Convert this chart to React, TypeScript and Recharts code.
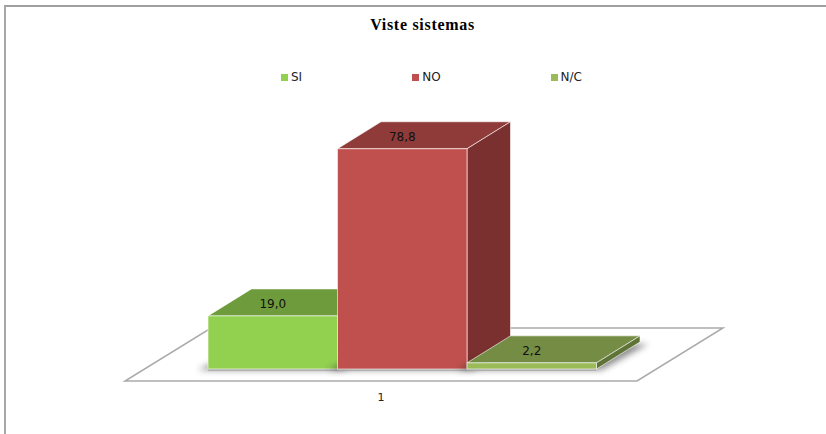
import { Bar, BarChart, Legend, XAxis, YAxis } from "recharts";

const CATEGORIES = ["1"];
const SERIES_NAMES = ["SI", "NO", "N/C"];
const SERIES_VALUES = [19.0, 78.8, 2.2];
const FRONT_COLORS = ["#92d050", "#c0504d", "#9bbb59"];
const TOP_COLORS = ["#6e9c3c", "#8f3b39", "#748c43"];
const SIDE_COLORS = ["#5f8733", "#7a302e", "#5f7336"];

const rows = CATEGORIES.map((category, c) => {
  const row: Record<string, string | number> = { category };
  if (c === 0) SERIES_NAMES.forEach((name, i) => (row[name] = SERIES_VALUES[i]));
  return row;
});

// extrusion of each box, and where the boxes sit on the floor
const DEPTH_X = 43.5;
const DEPTH_Y = 27;
const SHIFT_X = 21;
const SHIFT_Y = 12;
const FLOOR_X = 86;
const FLOOR_Y = 53;
const EDGE = "rgba(255,255,255,0.6)";

const pts = (list: number[][]) => list.map((p) => p.join(",")).join(" ");

function makeBox(i: number) {
  return function Box(props: any) {
    const x = props.x + SHIFT_X;
    const y = props.y - SHIFT_Y;
    const w = props.width;
    const b = y + props.height;
    return (
      <g>
        <polygon
          points={pts([
            [x - 10, b + 1],
            [x + w + 5, b + 1],
            [x + w + DEPTH_X + 8, b - DEPTH_Y + 2],
            [x + DEPTH_X, b - DEPTH_Y + 2],
          ])}
          fill="#333"
          opacity={0.55}
          filter="url(#boxShadow)"
        />
        <line x1={x} y1={b + 1} x2={x + w} y2={b + 1} stroke="#a6a6a6" strokeWidth={1.5} />
        <polygon
          points={pts([
            [x, y],
            [x + DEPTH_X, y - DEPTH_Y],
            [x + w + DEPTH_X, y - DEPTH_Y],
            [x + w, y],
          ])}
          fill={TOP_COLORS[i]}
          stroke={EDGE}
        />
        <polygon
          points={pts([
            [x + w, y],
            [x + w + DEPTH_X, y - DEPTH_Y],
            [x + w + DEPTH_X, b - DEPTH_Y],
            [x + w, b],
          ])}
          fill={SIDE_COLORS[i]}
          stroke={EDGE}
        />
        <rect x={x} y={y} width={w} height={b - y} fill={FRONT_COLORS[i]} stroke={EDGE} />
      </g>
    );
  };
}

function renderValue(props: any) {
  return (
    <text
      x={props.x + SHIFT_X + props.width / 2}
      y={props.y - SHIFT_Y - 8}
      textAnchor="middle"
      fontFamily="DejaVu Sans"
      fontSize={12}
      fill="#111"
    >
      {Number(props.value).toFixed(1).replace(".", ",")}
    </text>
  );
}

function renderLegend() {
  return (
    <div style={{ display: "flex", gap: 110, fontFamily: "DejaVu Sans", fontSize: 12, color: "#222" }}>
      {SERIES_NAMES.map((name, i) => (
        <span key={name} style={{ display: "flex", alignItems: "center", gap: 3 }}>
          <span style={{ width: 7, height: 7, background: FRONT_COLORS[i] }} />
          {name}
        </span>
      ))}
    </div>
  );
}

export default function App() {
  return (
    <div style={{ position: "absolute", left: 0, top: 0, width: 826, height: 434, background: "#fff" }}>
      <div style={{ position: "absolute", left: 4, top: 5, right: 0, bottom: 0, borderTop: "2px solid #a0a0a0", borderLeft: "2px solid #a8a8a8" }} />
      <BarChart
        width={826}
        height={434}
        data={rows}
        margin={{ top: 87.5, right: 189, bottom: 23, left: 125 }}
        barGap={0}
        barSize={129.5}
        style={{ position: "absolute", left: 0, top: 0 }}
      >
        <defs>
          <filter id="boxShadow" x="-20%" y="-50%" width="140%" height="200%">
            <feGaussianBlur stdDeviation="3" />
          </filter>
        </defs>
        <text x={422.5} y={30} textAnchor="middle" fontFamily="Liberation Serif" fontWeight="bold" fontSize={16} letterSpacing={0.7} fill="#000">
          Viste sistemas
        </text>
        <polygon
          points={pts([
            [125, 381],
            [637, 381],
            [637 + FLOOR_X, 381 - FLOOR_Y],
            [125 + FLOOR_X, 381 - FLOOR_Y],
          ])}
          fill="#fff"
          stroke="#aaaaaa"
          strokeWidth={1.5}
        />
        <XAxis
          dataKey="category"
          axisLine={false}
          tickLine={false}
          tick={{ fontFamily: "DejaVu Sans", fontSize: 11, fill: "#222" }}
          tickMargin={6}
        />
        <YAxis hide domain={[0, 100]} />
        <Legend
          verticalAlign="top"
          align="left"
          content={renderLegend}
          wrapperStyle={{ left: 281, top: 70, width: "auto" }}
        />
        {SERIES_NAMES.map((name, i) => (
          <Bar key={name} dataKey={name} shape={makeBox(i)} label={renderValue} isAnimationActive={false} />
        ))}
      </BarChart>
    </div>
  );
}
